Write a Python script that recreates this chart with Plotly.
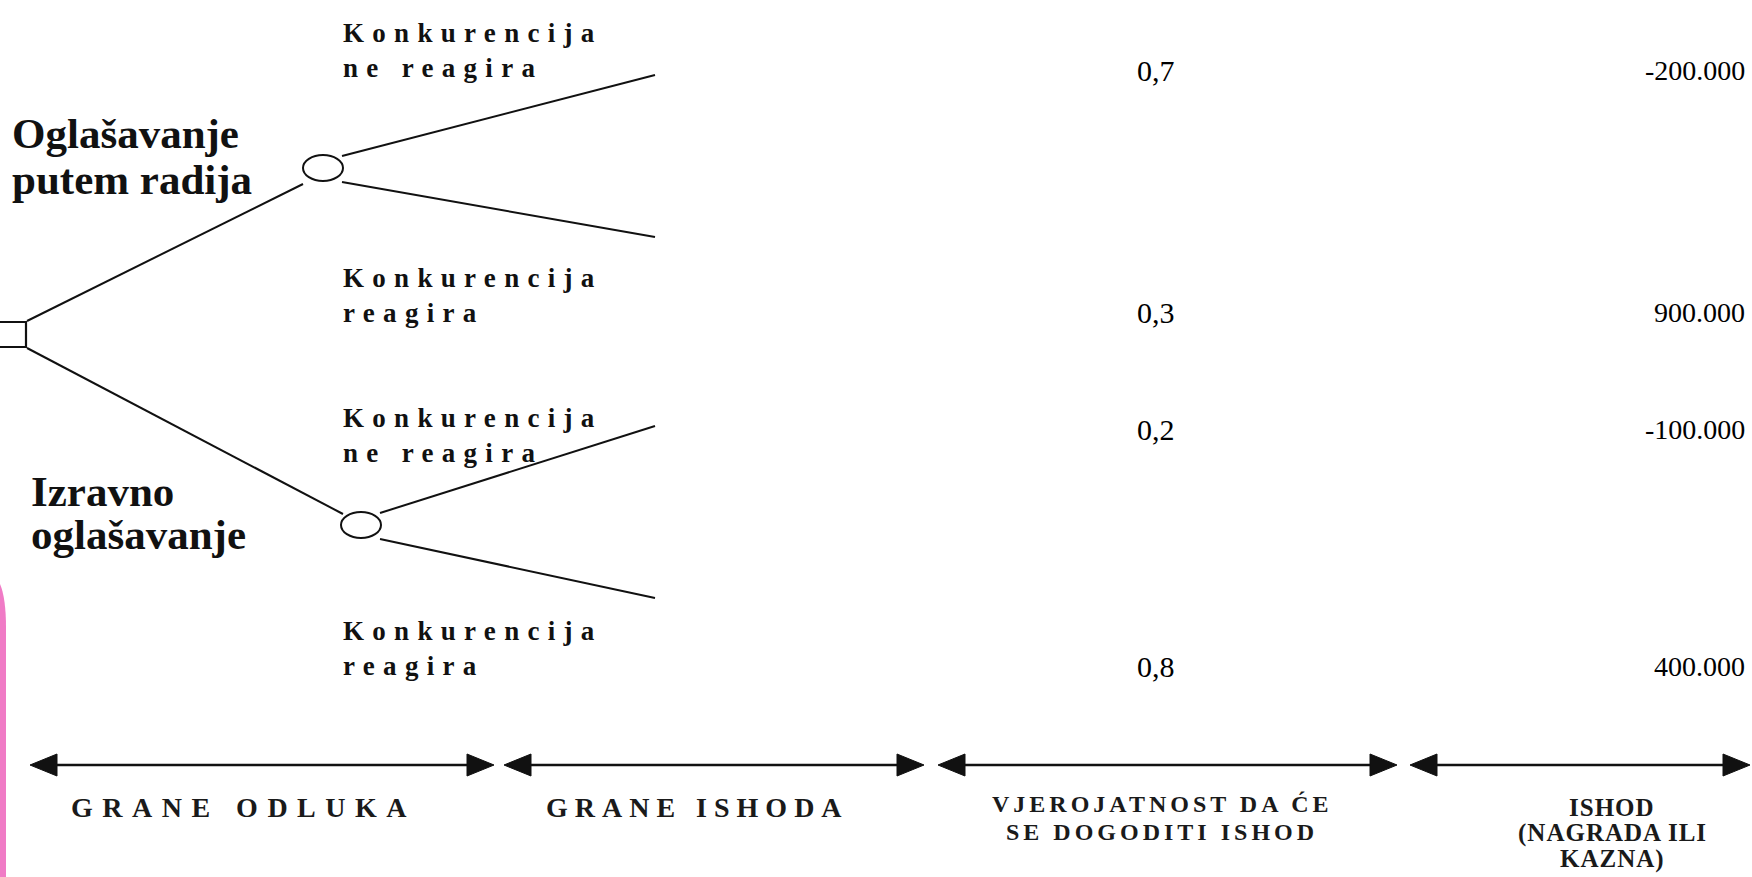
import plotly.graph_objects as go

# ---------------- data ----------------
decisions = [["Oglašavanje", "putem radija"], ["Izravno", "oglašavanje"]]
event_line1 = ["Konkurencija", "Konkurencija", "Konkurencija", "Konkurencija"]
event_line2 = ["ne reagira", "reagira", "ne reagira", "reagira"]
probabilities = [0.7, 0.3, 0.2, 0.8]
payoffs = [-200000, 900000, -100000, 400000]
section_titles = [
    ["GRANE ODLUKA"],
    ["GRANE ISHODA"],
    ["VJEROJATNOST DA ĆE", "SE DOGODITI ISHOD"],
    ["ISHOD", "(NAGRADA ILI", "KAZNA)"],
]

# ---------------- layout constants (pixel space) ----------------
W, H = 1752, 877
SERIF = "Liberation Serif, Times New Roman, serif"
INK = "#111111"

root_box = dict(x0=-2, x1=26, y0=322, y1=347)
chance_centres = [(323, 168), (361, 525)]
chance_rx, chance_ry = 20, 13
decision_line_start = [(27, 321), (27, 348)]
decision_line_end = [(303, 184), (343, 514)]
branch_end_x = 655
branch_end_y = [75, 237, 426, 598]
branch_start_dy = [-12, 14]

decision_label_x = [10, 29]
decision_label_y = [[133, 179], [491, 534]]
decision_font = 43
event_label_x = 341
event_label_y = [50, 295, 435, 648]
event_font, event_spacing = 27, 8.3
prob_x = 1156
payoff_x = 1747
row_y = [70, 312, 429, 666]
number_font = [30, 28]

arrow_y = 765
arrow_segments = [(30, 494), (504, 924), (938, 1397), (1410, 1750)]
arrow_len, arrow_half = 27, 11
title_x = [243, 697, 1162, 1612]
title_first_y = [807, 807, 804, 807]
title_pitch = [0, 0, 28, 26]
title_font = [28, 28, 24, 25]
title_spacing = [9.5, 7, 4, 1]


def fmt_prob(p):
    return f"{p:.1f}".replace(".", ",")


def fmt_pay(v):
    return f"{v:,}".replace(",", ".")


def spaced(txt, px):
    return f"<span style='letter-spacing:{px}px'>{txt}</span>"


fig = go.Figure()
shapes = []
annotations = []

# pink edge bar
shapes.append(dict(type="path", path="M0,584 Q6,598 6,628 L6,877 L0,877 Z",
                   fillcolor="#F07BC6", line=dict(width=0), layer="below"))

# root decision square (left edge cut off)
rx0, rx1, ry0, ry1 = root_box["x0"], root_box["x1"], root_box["y0"], root_box["y1"]
fig.add_trace(go.Scatter(x=[rx0, rx1, rx1, rx0], y=[ry0, ry0, ry1, ry1], mode="lines",
                         line=dict(color=INK, width=2.2), hoverinfo="skip"))

# decision branches and labels
for i, name_lines in enumerate(decisions):
    (sx, sy), (ex, ey) = decision_line_start[i], decision_line_end[i]
    fig.add_trace(go.Scatter(x=[sx, ex], y=[sy, ey], mode="lines",
                             line=dict(color=INK, width=2), hoverinfo="skip"))
    cx, cy = chance_centres[i]
    shapes.append(dict(type="circle", x0=cx - chance_rx, x1=cx + chance_rx,
                       y0=cy - chance_ry, y1=cy + chance_ry,
                       line=dict(color=INK, width=2), fillcolor="rgba(0,0,0,0)"))
    for li, line_txt in enumerate(name_lines):
        annotations.append(dict(x=decision_label_x[i], y=decision_label_y[i][li],
                                text=f"<b>{line_txt}</b>", showarrow=False,
                                xanchor="left", yanchor="middle", align="left",
                                font=dict(family=SERIF, size=decision_font, color=INK)))
    # outcome branches
    for j in range(2):
        k = 2 * i + j
        fig.add_trace(go.Scatter(x=[cx + chance_rx - 1, branch_end_x],
                                 y=[cy + branch_start_dy[j], branch_end_y[k]],
                                 mode="lines", line=dict(color=INK, width=2),
                                 hoverinfo="skip"))

# event labels, probabilities, payoffs
for k in range(len(probabilities)):
    txt = ("<b>" + spaced(event_line1[k], event_spacing) + "<br>"
           + spaced(event_line2[k], event_spacing) + "</b>")
    annotations.append(dict(x=event_label_x, y=event_label_y[k], text=txt, showarrow=False,
                            xanchor="left", yanchor="middle", align="left",
                            font=dict(family=SERIF, size=event_font, color=INK)))
    annotations.append(dict(x=prob_x, y=row_y[k], text=fmt_prob(probabilities[k]),
                            showarrow=False, xanchor="center", yanchor="middle",
                            font=dict(family=SERIF, size=number_font[0], color="#000000")))
    annotations.append(dict(x=payoff_x, y=row_y[k], text=fmt_pay(payoffs[k]),
                            showarrow=False, xanchor="right", yanchor="middle",
                            font=dict(family=SERIF, size=number_font[1], color="#000000")))

# bottom section arrows and titles
for s, (a, b) in enumerate(arrow_segments):
    fig.add_trace(go.Scatter(x=[a + 10, b - 10], y=[arrow_y, arrow_y], mode="lines",
                             line=dict(color=INK, width=2.5), hoverinfo="skip"))
    shapes.append(dict(type="path",
                       path=f"M{a},{arrow_y} L{a + arrow_len},{arrow_y - arrow_half} "
                            f"L{a + arrow_len},{arrow_y + arrow_half} Z",
                       fillcolor=INK, line=dict(color=INK, width=1)))
    shapes.append(dict(type="path",
                       path=f"M{b},{arrow_y} L{b - arrow_len},{arrow_y - arrow_half} "
                            f"L{b - arrow_len},{arrow_y + arrow_half} Z",
                       fillcolor=INK, line=dict(color=INK, width=1)))
    for li, t in enumerate(section_titles[s]):
        annotations.append(dict(x=title_x[s], y=title_first_y[s] + li * title_pitch[s],
                                text="<b>" + spaced(t, title_spacing[s]) + "</b>",
                                showarrow=False, xanchor="center", yanchor="middle",
                                align="center",
                                font=dict(family=SERIF, size=title_font[s], color="#1a1a1a")))

fig.update_layout(
    width=W, height=H,
    margin=dict(l=0, r=0, t=0, b=0),
    paper_bgcolor="white", plot_bgcolor="white",
    showlegend=False,
    xaxis=dict(range=[0, W], visible=False, fixedrange=True),
    yaxis=dict(range=[H, 0], visible=False, fixedrange=True),
    shapes=shapes,
    annotations=annotations,
)

fig.write_html(
    "out.html",
    config={"displayModeBar": False},
    post_script="document.body.style.margin='0';document.body.style.overflow='hidden';",
)
